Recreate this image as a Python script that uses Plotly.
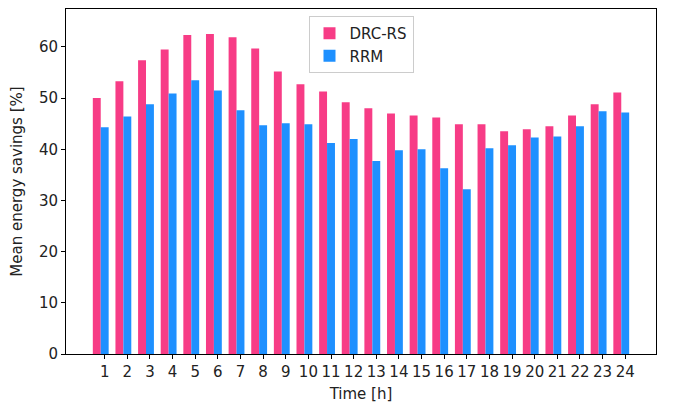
import plotly.graph_objects as go

# hours and savings
hours = list(range(1, 25))
drc_rs = [50.0, 53.3, 57.4, 59.5, 62.3, 62.5, 61.9, 59.7, 55.2, 52.7, 51.3, 49.2,
          48.0, 47.0, 46.6, 46.2, 44.9, 44.9, 43.5, 43.9, 44.5, 46.6, 48.8, 51.1]
rrm = [44.3, 46.4, 48.8, 50.9, 53.5, 51.5, 47.6, 44.7, 45.1, 44.9, 41.2, 42.0,
       37.7, 39.8, 40.0, 36.3, 32.2, 40.2, 40.8, 42.3, 42.5, 44.5, 47.4, 47.2]

fig = go.Figure()
fig.add_bar(x=hours, y=drc_rs, name='DRC-RS', width=0.35, offset=-0.525,
            marker=dict(color='#F73C86', line=dict(width=0)))
fig.add_bar(x=hours, y=rrm, name='RRM', width=0.35, offset=-0.175,
            marker=dict(color='#1E90FF', line=dict(width=0)))

axis_style = dict(showgrid=False, zeroline=False, showline=True, linecolor='black',
                  linewidth=1, mirror=True, ticks='outside', ticklen=4,
                  tickcolor='black', tickfont=dict(size=15, color='#222'),
                  automargin=False)

# page body has an 8px margin, so the figure is a bit smaller than the window
fig.update_layout(
    width=667, height=395,
    margin=dict(l=58, r=19, t=1, b=49),
    plot_bgcolor='white', paper_bgcolor='white',
    font=dict(family='DejaVu Sans', size=15, color='#222'),
    barmode='overlay',
    showlegend=True,
    legend=dict(x=0.5, xanchor='center', y=0.98, yanchor='top',
                bgcolor='white', bordercolor='#cccccc', borderwidth=1,
                font=dict(size=15)),
    xaxis=dict(axis_style, range=[-0.71, 25.36], tickvals=hours,
               title=dict(text='Time [h]', font=dict(size=15))),
    yaxis=dict(axis_style, range=[0, 67.4], tickvals=[0, 10, 20, 30, 40, 50, 60],
               title=dict(text='Mean energy savings [%]', font=dict(size=15))),
)

fig.write_html("out.html")
